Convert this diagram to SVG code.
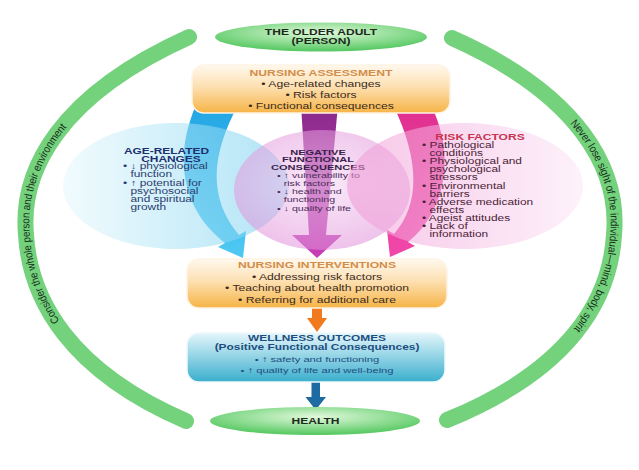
<svg xmlns="http://www.w3.org/2000/svg" width="639" height="470" viewBox="0 0 639 470">
<defs>
<style>
text{font-family:"Liberation Sans",Arial,sans-serif}
.arc{fill:none;stroke:#74d27d;stroke-width:16;stroke-linecap:round}
.arct{font-size:11px;fill:#16301a}
.gt{font-size:8.6px;font-weight:bold;fill:#1c2a1c}
.bt{font-size:8.7px;font-weight:bold;fill:#d38d48}
.bl{font-size:8.7px;fill:#3a2a1c}
.at{font-size:8.5px;font-weight:bold;fill:#1d2f6f}
.al{font-size:8.5px;fill:#2b3b6e}
.nt{font-size:7.9px;font-weight:bold;fill:#3a1f4a}
.nl{font-size:7.6px;fill:#4d2c5c}
.rt{font-size:8.6px;font-weight:bold;fill:#c8324e}
.rl{font-size:8.5px;fill:#4a2236}
.wt{font-size:8.5px;font-weight:bold;fill:#1e4e80}
.wl{font-size:8px;fill:#1e4e80}
</style>
<radialGradient id="gGreen" cx="50%" cy="35%" r="60%">
<stop offset="0" stop-color="#e2f9dc"/><stop offset="1" stop-color="#5ccb67"/>
</radialGradient>
<linearGradient id="gOrange" x1="0" y1="0" x2="0" y2="1">
<stop offset="0" stop-color="#fff8ee"/><stop offset="0.45" stop-color="#fde0b2"/><stop offset="1" stop-color="#f6b446"/>
</linearGradient>
<linearGradient id="gTeal" x1="0" y1="0" x2="0" y2="1">
<stop offset="0" stop-color="#e4f6fb"/><stop offset="1" stop-color="#3aaecd"/>
</linearGradient>
<linearGradient id="gCyanE" x1="0" y1="0" x2="1" y2="0">
<stop offset="0" stop-color="#e6f8fd"/><stop offset="1" stop-color="#6fcdee"/>
</linearGradient>
<radialGradient id="gPinkE" cx="50%" cy="45%" r="55%">
<stop offset="0" stop-color="#f5daf3"/><stop offset="1" stop-color="#e190da"/>
</radialGradient>
<linearGradient id="gRiskE" x1="0" y1="0" x2="1" y2="0">
<stop offset="0" stop-color="#f097d4"/><stop offset="1" stop-color="#fbe6f6"/>
</linearGradient>
<linearGradient id="gCyanA" x1="0" y1="0" x2="0" y2="1">
<stop offset="0" stop-color="#22a6e4"/><stop offset="1" stop-color="#4fc9f3"/>
</linearGradient>
<linearGradient id="gMagA" x1="0" y1="0" x2="0" y2="1">
<stop offset="0" stop-color="#8a2a8c"/><stop offset="1" stop-color="#c83db6"/>
</linearGradient>
<linearGradient id="gPinkA" x1="0" y1="0" x2="0" y2="1">
<stop offset="0" stop-color="#e0308f"/><stop offset="1" stop-color="#f048aa"/>
</linearGradient>
<path id="lp" d="M 186,421 C 70,371 30,300 26,235 C 20,170 60,95 189,37"/>
<path id="rp" d="M 452,38 C 580,95 620,170 614,235 C 610,300 570,370 447,420"/>
</defs>

<g id="left-arc">
<use href="#lp" class="arc"/>
<text class="arct" dy="3.9"><textPath href="#lp" startOffset="51%" text-anchor="middle" textLength="214" lengthAdjust="spacingAndGlyphs">Consider the whole person and their environment</textPath></text>
</g>
<g id="right-arc">
<use href="#rp" class="arc"/>
<text class="arct" dy="3.9"><textPath href="#rp" startOffset="49%" text-anchor="middle" textLength="230" lengthAdjust="spacingAndGlyphs">Never lose sight of the individual—mind, body, spirit</textPath></text>
</g>

<g id="connectors">
<path id="arrow-age" d="M 196,105 L 238,105 C 214,150 205,195 239,235 L 246,231 L 243,258 L 218,247 L 225,243 C 184,212 172,160 196,105 Z" fill="url(#gCyanA)"/>
<path id="arrow-neg" d="M 301,105 L 338,105 L 326,235 L 342,235 L 317,258 L 292,235 L 309,235 Z" fill="url(#gMagA)"/>
<path id="arrow-risk" d="M 393,105 L 431,105 C 458,160 442,215 408,242 L 415,246 L 390,257 L 387,230 L 394,234 C 420,205 420,160 393,105 Z" fill="url(#gPinkA)"/>
<path id="arrow-int" d="M 312,307 L 322,307 L 322,318 L 327,318 L 317,332 L 307,318 L 312,318 Z" fill="#f17a1e"/>
<path id="arrow-well" d="M 311.5,381 L 320,381 L 320,397 L 326,397 L 315.7,410 L 305.5,397 L 311.5,397 Z" fill="#1e6aa3"/>
</g>

<g id="age-related">
<ellipse cx="176" cy="186" rx="113" ry="63" fill="url(#gCyanE)" opacity="0.55"/>
<g transform="translate(166.5,0) scale(1.4,1)"><text class="at" x="0" y="154.5" text-anchor="middle">AGE-RELATED</text></g>
<g transform="translate(171,0) scale(1.4,1)"><text class="at" x="0" y="162" text-anchor="middle">CHANGES</text></g>
<g transform="translate(123,0) scale(1.4,1)">
<text class="al" x="0" y="169.5">• ↓ physiological</text>
<text class="al" x="5.3" y="177.5">function</text>
<text class="al" x="0" y="186">• ↑ potential for</text>
<text class="al" x="5.3" y="194">psychosocial</text>
<text class="al" x="5.3" y="202.5">and spiritual</text>
<text class="al" x="5.3" y="210.5">growth</text>
</g>
</g>

<g id="negative">
<ellipse cx="322" cy="190" rx="88" ry="60" fill="url(#gPinkE)" opacity="0.55"/>
<g transform="translate(318,0) scale(1.4,1)">
<text class="nt" x="0" y="155" text-anchor="middle">NEGATIVE</text>
<text class="nt" x="0" y="162.5" text-anchor="middle">FUNCTIONAL</text>
<text class="nt" x="0" y="170" text-anchor="middle">CONSEQUENCES</text>
</g>
<g transform="translate(277,0) scale(1.4,1)">
<text class="nl" x="0" y="178">• ↑ vulnerability to</text>
<text class="nl" x="4.8" y="186">risk factors</text>
<text class="nl" x="0" y="194.5">• ↓ health and</text>
<text class="nl" x="4.8" y="202.5">functioning</text>
<text class="nl" x="0" y="211">• ↓ quality of life</text>
</g>
</g>

<g id="risk">
<ellipse cx="465" cy="186" rx="118" ry="63" fill="url(#gRiskE)" opacity="0.55"/>
<g transform="translate(480,0) scale(1.4,1)"><text class="rt" x="0" y="140" text-anchor="middle">RISK FACTORS</text></g>
<g transform="translate(422,0) scale(1.4,1)">
<text class="rl" x="0" y="148">• Pathological</text>
<text class="rl" x="5.3" y="156">conditions</text>
<text class="rl" x="0" y="164.5">• Physiological and</text>
<text class="rl" x="5.3" y="172.5">psychological</text>
<text class="rl" x="5.3" y="180.5">stressors</text>
<text class="rl" x="0" y="189">• Environmental</text>
<text class="rl" x="5.3" y="197">barriers</text>
<text class="rl" x="0" y="205">• Adverse medication</text>
<text class="rl" x="5.3" y="213">effects</text>
<text class="rl" x="0" y="221">• Ageist attitudes</text>
<text class="rl" x="0" y="229.5">• Lack of</text>
<text class="rl" x="5.3" y="237.5">information</text>
</g>
</g>

<g id="older-adult">
<ellipse cx="321" cy="37" rx="106" ry="14.5" fill="url(#gGreen)"/>
<g transform="translate(321,0) scale(1.4,1)">
<text class="gt" x="0" y="35" text-anchor="middle">THE OLDER ADULT</text>
<text class="gt" x="0" y="44" text-anchor="middle">(PERSON)</text>
</g>
</g>

<g id="assessment">
<rect x="192" y="65" width="258" height="48" rx="12" fill="url(#gOrange)" stroke="#fff4e4" stroke-width="1.5"/>
<g transform="translate(321,0) scale(1.4,1)">
<text class="bt" x="0" y="76" text-anchor="middle">NURSING ASSESSMENT</text>
<text class="bl" x="0" y="87" text-anchor="middle">• Age-related changes</text>
<text class="bl" x="0" y="98" text-anchor="middle">• Risk factors</text>
<text class="bl" x="0" y="109.5" text-anchor="middle">• Functional consequences</text>
</g>
</g>

<g id="interventions">
<rect x="187" y="259" width="260" height="49" rx="12" fill="url(#gOrange)" stroke="#fff4e4" stroke-width="1.5"/>
<g transform="translate(317,0) scale(1.4,1)">
<text class="bt" x="0" y="268.5" text-anchor="middle">NURSING INTERVENTIONS</text>
<text class="bl" x="0" y="280" text-anchor="middle">• Addressing risk factors</text>
<text class="bl" x="0" y="291.5" text-anchor="middle">• Teaching about health promotion</text>
<text class="bl" x="0" y="303" text-anchor="middle">• Referring for additional care</text>
</g>
</g>

<g id="wellness">
<rect x="187" y="333" width="258" height="49" rx="12" fill="url(#gTeal)" stroke="#eef9fc" stroke-width="1.5"/>
<g transform="translate(317,0) scale(1.4,1)">
<text class="wt" x="0" y="341.5" text-anchor="middle">WELLNESS OUTCOMES</text>
<text class="wt" x="0" y="350.5" text-anchor="middle">(Positive Functional Consequences)</text>
<text class="wl" x="0" y="362" text-anchor="middle">• ↑ safety and functioning</text>
<text class="wl" x="0" y="373" text-anchor="middle">• ↑ quality of life and well-being</text>
</g>
</g>

<g id="health">
<ellipse cx="315" cy="421" rx="105" ry="14" fill="url(#gGreen)"/>
<g transform="translate(315.5,0) scale(1.4,1)"><text class="gt" x="0" y="424" text-anchor="middle">HEALTH</text></g>
</g>
</svg>
